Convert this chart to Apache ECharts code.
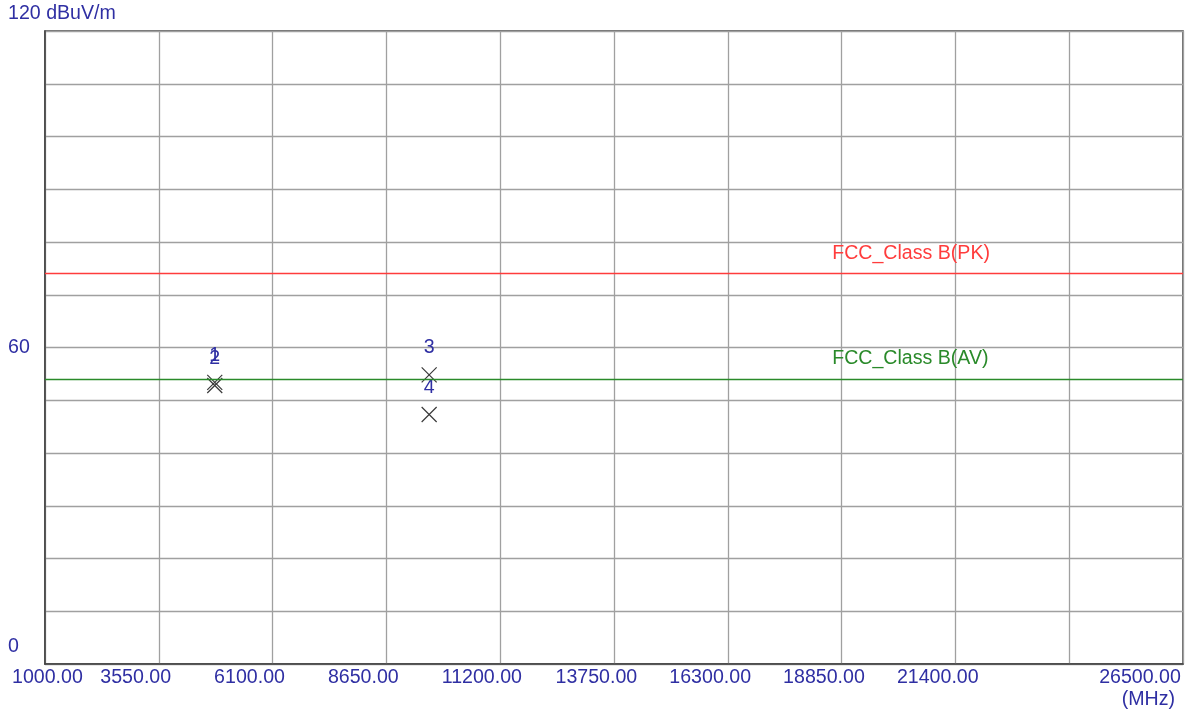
<!DOCTYPE html>
<html>
<head>
<meta charset="utf-8">
<script src="https://cdn.jsdelivr.net/npm/echarts@6/dist/echarts.min.js"></script>
<style>
  html, body { margin: 0; padding: 0; background: #fff; }
  #chart { width: 1192px; height: 715px; }
</style>
</head>
<body>
<div id="chart"></div>
<script>
// Диапазон частот (MHz) и шаг сетки
const freqMin = 1000;
const freqMax = 26500;
const freqStep = 2550;
const hiddenFreqLabels = [23950];

// Уровни (dBuV/m)
const levelMin = 0;
const levelMax = 120;
const levelStep = 10;
const levelLabels = { 0: '0', 60: '60', 120: '120 dBuV/m' };

// Точки измерений
const markerNames = ['1', '2', '3', '4'];
const markerFreqs = [4804, 4804, 9608, 9608];
const markerLevels = [53.4, 52.8, 54.8, 47.3];

// Пределы FCC
const limitNames = ['FCC_Class B(PK)', 'FCC_Class B(AV)'];
const limitLevels = [74, 54];
const limitColors = ['#ff3c3c', '#2a8a2a'];
const limitLabelFreq = 18650;

const FONT = 'Liberation Sans, Arial, sans-serif';
const FS = 19.6;
const BLUE = '#2f2fa3';

// ось X считается от 0, чтобы шаг 2550 начинался с первой линии
const toAxis = f => f - freqMin;

const chart = echarts.init(document.getElementById('chart'), null, { renderer: 'canvas' });

// пределы рисуем через markLine, подписи через markPoint
const limitLines = limitNames.map((name, i) => ({
    name,
    yAxis: limitLevels[i],
    lineStyle: { color: limitColors[i], width: 1.4, type: 'solid' },
    label: { show: false }
}));
const limitPoints = limitNames.map((name, i) => ({
    name,
    coord: [toAxis(limitLabelFreq), limitLevels[i]],
    label: {
        show: true,
        position: [0, 0],
        align: 'left',
        verticalAlign: 'middle',
        offset: [0, -20],
        formatter: name,
        color: limitColors[i],
        fontFamily: FONT,
        fontSize: FS
    }
}));

const option = {
    backgroundColor: '#fff',
    animation: false,
    grid: {
        left: 45, right: 9, top: 31, bottom: 51,
        containLabel: false,
        outerBoundsMode: 'none',
        show: true,
        borderColor: '#404040',
        borderWidth: 1.5
    },
    xAxis: {
        type: 'value',
        min: 0,
        max: toAxis(freqMax),
        interval: freqStep,
        name: '(MHz)',
        nameLocation: 'end',
        nameGap: 0,
        nameTextStyle: {
            color: BLUE, fontFamily: FONT, fontSize: FS,
            align: 'right', verticalAlign: 'top', padding: [26, 8, 0, 0]
        },
        axisLine: { show: true, lineStyle: { color: '#404040', width: 1.5 } },
        axisTick: { show: false },
        splitLine: { show: true, lineStyle: { color: '#a0a0a0', width: 1.3 } },
        axisLabel: {
            margin: 4,
            color: BLUE,
            fontFamily: FONT,
            fontSize: FS,
            formatter: v => {
                const f = v + freqMin;
                if (hiddenFreqLabels.includes(f)) return '';
                const txt = f.toFixed(2);
                if (f === freqMin) return '{first|' + txt + '}';
                if (f === freqMax) return '{last|' + txt + '}{pad|}';
                return '{mid|' + txt + '}';
            },
            rich: {
                first: { width: 66, align: 'left', color: BLUE, fontFamily: FONT, fontSize: FS },
                mid: { width: 117, align: 'left', color: BLUE, fontFamily: FONT, fontSize: FS },
                last: { color: BLUE, fontFamily: FONT, fontSize: FS },
                pad: { width: 86 }
            }
        }
    },
    yAxis: {
        type: 'value',
        min: levelMin,
        max: levelMax,
        interval: levelStep,
        axisLine: { show: true, lineStyle: { color: '#404040', width: 1.5 } },
        axisTick: { show: false },
        splitLine: { show: true, lineStyle: { color: '#a0a0a0', width: 1.3 } },
        axisLabel: {
            align: 'left',
            margin: 37,
            color: BLUE,
            fontFamily: FONT,
            fontSize: FS,
            formatter: v => {
                const t = levelLabels[v];
                if (t === undefined) return '';
                if (v === levelMin || v === levelMax) return '{up|' + t + '}';
                return t;
            },
            rich: {
                up: { padding: [0, 0, 34, 0], color: BLUE, fontFamily: FONT, fontSize: FS }
            }
        }
    },
    series: [
        {
            name: 'markers',
            type: 'scatter',
            symbol: 'path://M0,0L10,10M10,0L0,10',
            symbolSize: 15,
            itemStyle: { color: 'transparent', borderColor: '#3a3a3a', borderWidth: 1.2, opacity: 1 },
            label: {
                show: true,
                position: 'top',
                distance: 9,
                color: BLUE,
                fontFamily: FONT,
                fontSize: FS,
                formatter: p => markerNames[p.dataIndex]
            },
            data: markerFreqs.map((f, i) => [toAxis(f), markerLevels[i]]),
            markLine: {
                silent: true,
                symbol: 'none',
                animation: false,
                data: limitLines
            },
            markPoint: {
                silent: true,
                symbol: 'circle',
                symbolSize: 1,
                itemStyle: { color: 'transparent', borderWidth: 0 },
                animation: false,
                data: limitPoints
            }
        }
    ]
};

chart.setOption(option);
</script>
</body>
</html>
